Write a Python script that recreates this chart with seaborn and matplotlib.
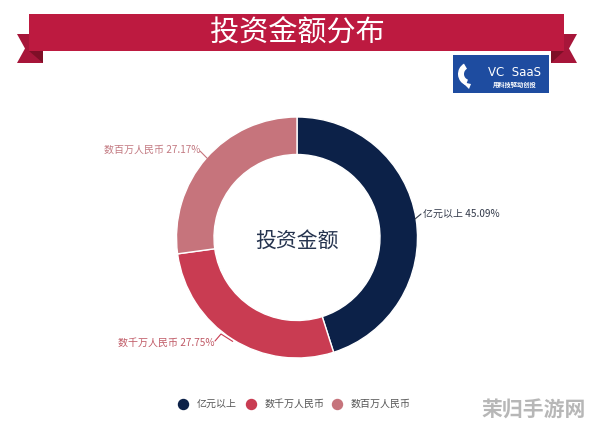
import numpy as np
import matplotlib
matplotlib.use("Agg")
import matplotlib.pyplot as plt
from matplotlib.patches import Polygon, Rectangle, Wedge
import seaborn as sns

# ---- data ----
categories = ["亿元以上", "数千万人民币", "数百万人民币"]
shares = [45.09, 27.75, 27.17]
colors = ["#0c2148", "#c93c52", "#c6747c"]
label_colors = ["#333a4a", "#c05a66", "#c37a82"]
title = "投资金额分布"
center_text = "投资金额"

sns.set_theme(style="white")
plt.rcParams["font.family"] = ["Noto Sans CJK SC", "DejaVu Sans"]

W, H = 594, 430
fig = plt.figure(figsize=(W / 100, H / 100), dpi=100)
ax = fig.add_axes([0, 0, 1, 1])

def Y(y):
    return H - y

# ---- donut ----
cx, cy, R, ring = 297, Y(237.5), 120.5, 37.5
wedges, _ = ax.pie(shares, colors=colors, startangle=90, counterclock=False,
                   radius=R, center=(cx, cy),
                   wedgeprops=dict(width=ring, edgecolor="white", linewidth=1))
ax.set_xlim(0, W)
ax.set_ylim(0, H)
ax.set_aspect("equal")
ax.axis("off")

ax.text(cx, cy - 3, center_text, ha="center", va="center", fontsize=15, color="#26344f")

# labels with leader lines
total = sum(shares)
cum = 0
anchors = []
for v in shares:
    mid = cum + v / 2
    cum += v
    ang = np.deg2rad(90 - mid / total * 360)
    anchors.append((cx + R * np.cos(ang), cy + R * np.sin(ang)))

# label 0 (right)
a = anchors[0]
ax.plot([a[0] - 1, 421], [a[1], Y(214)], color=label_colors[0], lw=0.8)
ax.text(423, Y(214), f"{categories[0]} {shares[0]:.2f}%", ha="left", va="center",
        fontsize=7.2, color=label_colors[0])
# label 1 (bottom-left)
a = anchors[1]
ax.plot([a[0], 221, 215], [a[1] - 2, Y(334), Y(341)], color=colors[1], lw=0.8)
ax.text(214, Y(343), f"{categories[1]} {shares[1]:.2f}%", ha="right", va="center",
        fontsize=7.2, color=label_colors[1])
# label 2 (top-left)
a = anchors[2]
ax.plot([a[0] + 1, 200], [a[1], Y(151)], color=colors[2], lw=0.8)
ax.text(200, Y(150), f"{categories[2]} {shares[2]:.2f}%", ha="right", va="center",
        fontsize=7.2, color=label_colors[2])

# ---- legend ----
leg_x = [183, 251, 337]
for x, c, lab in zip(leg_x, colors, categories):
    ax.plot([x], [Y(404)], marker="o", ms=7.2, color=c, mec=c)
    ax.text(x + 13.5, Y(404), lab, ha="left", va="center", fontsize=7.2, color="#555555")

# ---- ribbon banner ----
tail_c, fold_c, band_c = "#a7163a", "#7e0f27", "#bd1a40"
ax.add_patch(Polygon([(17, Y(34)), (43, Y(34)), (43, Y(63)), (17, Y(63)), (25, Y(48.5))],
                     closed=True, color=tail_c, lw=0))
ax.add_patch(Polygon([(29, Y(51)), (43, Y(51)), (43, Y(63))], closed=True, color=fold_c, lw=0))
ax.add_patch(Polygon([(551, Y(34)), (577, Y(34)), (569, Y(48.5)), (577, Y(63)), (551, Y(63))],
                     closed=True, color=tail_c, lw=0))
ax.add_patch(Polygon([(564, Y(51)), (551, Y(51)), (551, Y(63))], closed=True, color=fold_c, lw=0))
ax.add_patch(Rectangle((29, Y(51)), 535, 37, color=band_c, lw=0))
ax.text(297, Y(33), title, ha="center", va="center", fontsize=21, color="white")

# ---- logo ----
ax.add_patch(Rectangle((453, Y(93)), 96, 38, color="#1e4ca0", lw=0))
ax.add_patch(Wedge((470, Y(74)), 12, 120, 250, width=6, color="white", lw=0))
ax.add_patch(Polygon([(462, Y(82)), (469, Y(89)), (471, Y(84))], closed=True, color="white", lw=0))
ax.text(515, Y(72), "VC  SaaS", ha="center", va="center", fontsize=8.5, color="white",
        family=["DejaVu Sans"])
ax.text(515, Y(84), "用科技驱动创投", ha="center", va="center", fontsize=4.5, color="white",
        fontweight="bold")

# ---- watermark ----
ax.text(534, Y(410), "茉归手游网", ha="center", va="center", fontsize=15, color="#b0b0b0",
        fontweight="bold", alpha=0.9)

fig.savefig("out.png", dpi=100)
